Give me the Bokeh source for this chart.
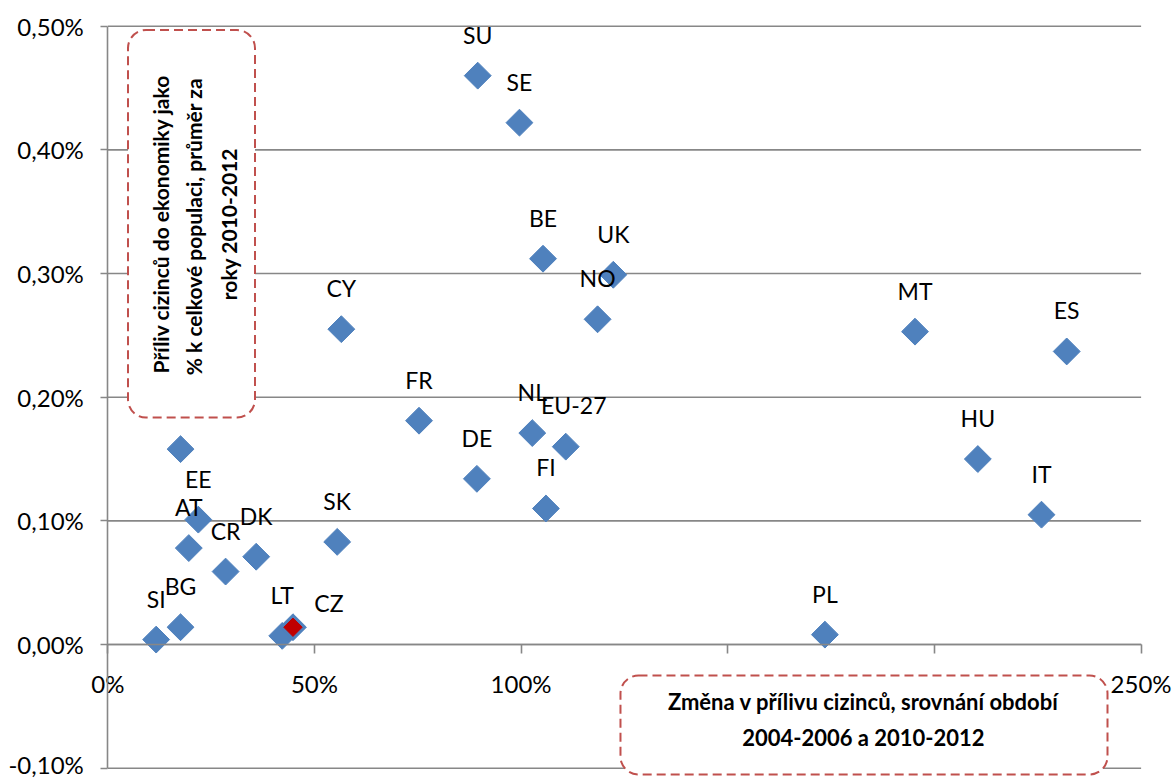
import math
from bokeh.plotting import figure
from bokeh.models import (BoxAnnotation, Label, FixedTicker, CustomJSTickFormatter,
                          ColumnDataSource, Range1d)
from bokeh.core.properties import value
from bokeh.embed import file_html
from bokeh.resources import INLINE

# ---- data (x: change in inflow, %, y: inflow as % of economic population) ----
countries = ["SU", "SE", "BE", "UK", "NO", "CY", "FR", "NL", "EU-27", "DE", "FI",
             "MT", "ES", "HU", "IT", "PL", "EE", "AT", "CR", "DK", "SK", "SI",
             "BG", "LT", ""]
change_pct = [89.5, 99.6, 105.3, 122.3, 118.5, 56.5, 75.3, 102.7, 110.8, 89.3, 106.0,
              195.3, 232.0, 210.5, 225.9, 173.5, 21.9, 19.6, 28.5, 35.9, 55.5, 11.7,
              17.6, 42.2, 17.6]
inflow_pct = [0.460, 0.422, 0.312, 0.299, 0.263, 0.255, 0.181, 0.171, 0.160, 0.134, 0.110,
              0.253, 0.237, 0.150, 0.105, 0.008, 0.101, 0.078, 0.059, 0.071, 0.083, 0.004,
              0.014, 0.007, 0.158]

cz_label = ["CZ"]
cz_change = [44.8]
cz_inflow = [0.014]

x_ticks = [0, 50, 100, 150, 200, 250]
y_ticks = [-0.1, 0.0, 0.1, 0.2, 0.3, 0.4, 0.5]

y_title_lines = ["Příliv cizinců do ekonomiky jako",
                 "% k celkové  populaci, průměr za",
                 "roky 2010-2012"]
x_title_lines = ["Změna v přílivu cizinců, srovnání období",
                 "2004-2006 a 2010-2012"]

# ---- style ----
FONT = "Lato"
BLUE = "#4F81BD"
GRID = "#878787"
RED_BOX = "#C0504D"
label_shift = {"EU-27": (8, -42)}   # special label placements (px)
default_shift = (0, -41)

# frame covers the whole canvas; axes are drawn inside at x=0 / y=0
p = figure(width=1174, height=778, output_backend="svg", toolbar_location=None,
           x_range=Range1d(-25.96, 258.08), y_range=Range1d(-0.10833, 0.52078),
           min_border_left=0, min_border_right=0, min_border_top=0,
           min_border_bottom=0, background_fill_color="white",
           border_fill_color="white")
p.outline_line_color = None
p.xgrid.visible = False
p.ygrid.visible = False

# horizontal gridlines limited to the data area
p.segment(x0=x_ticks[0], x1=x_ticks[-1], y0=y_ticks, y1=y_ticks,
          line_color=GRID, line_width=1.6)

p.yaxis.fixed_location = 0
p.yaxis.bounds = (y_ticks[0], y_ticks[-1])
p.yaxis.ticker = FixedTicker(ticks=y_ticks)
p.yaxis.formatter = CustomJSTickFormatter(code="return tick.toFixed(2).replace('.', ',') + '%';")
p.yaxis.axis_line_color = GRID
p.yaxis.axis_line_width = 1.6
p.yaxis.major_tick_line_color = GRID
p.yaxis.major_tick_line_width = 1.6
p.yaxis.major_tick_out = 7
p.yaxis.major_tick_in = 0
p.yaxis.minor_tick_line_color = None
p.yaxis.major_label_text_font = FONT
p.yaxis.major_label_text_font_size = "24px"
p.yaxis.major_label_text_color = "black"
p.yaxis.major_label_standoff = 17

p.xaxis.fixed_location = 0
p.xaxis.bounds = (x_ticks[0], x_ticks[-1])
p.xaxis.ticker = FixedTicker(ticks=x_ticks)
p.xaxis.formatter = CustomJSTickFormatter(code="return tick.toFixed(0) + '%';")
p.xaxis.axis_line_color = GRID
p.xaxis.axis_line_width = 1.6
p.xaxis.major_tick_line_color = GRID
p.xaxis.major_tick_line_width = 1.6
p.xaxis.major_tick_out = 9
p.xaxis.major_tick_in = 0
p.xaxis.minor_tick_line_color = None
p.xaxis.major_label_text_font = FONT
p.xaxis.major_label_text_font_size = "24px"
p.xaxis.major_label_text_color = "black"
p.xaxis.major_label_standoff = 15

src = ColumnDataSource(dict(
    x=change_pct, y=inflow_pct, name=countries,
    dx=[label_shift.get(c, default_shift)[0] for c in countries],
    dy=[label_shift.get(c, default_shift)[1] for c in countries]))

p.scatter("x", "y", source=src, marker="square", angle=math.pi / 4, size=19,
          fill_color=BLUE, line_color=BLUE, line_width=1)
p.text("x", "y", text="name", source=src, x_offset="dx", y_offset="dy",
       text_align="center", text_baseline="middle", text_font=value(FONT),
       text_font_size="23px", text_color="black")

cz = ColumnDataSource(dict(x=cz_change, y=cz_inflow, name=cz_label))
p.scatter("x", "y", source=cz, marker="square", angle=math.pi / 4, size=19,
          fill_color=BLUE, line_color=BLUE)
p.scatter("x", "y", source=cz, marker="square", angle=math.pi / 4, size=13,
          fill_color="#C00000", line_color="#C00000")
p.text("x", "y", text="name", source=cz, x_offset=36, y_offset=-24,
       text_align="center", text_baseline="middle", text_font=value(FONT),
       text_font_size="23px", text_color="black")

# ---- annotation boxes ----
box_style = dict(fill_color="white", fill_alpha=1.0, line_color=RED_BOX,
                 line_alpha=1.0, line_width=2, line_dash="9 5", border_radius=18)
p.add_layout(BoxAnnotation(left=4.89, right=35.61, top=0.4969, bottom=0.18355, **box_style))
p.add_layout(BoxAnnotation(left=124.04, right=241.87, top=-0.02507, bottom=-0.1051, **box_style))

for xi, line in zip([12.75, 20.74, 29.2], y_title_lines):
    p.add_layout(Label(x=xi, y=0.34, text=line, angle=math.pi / 2,
                       text_align="center", text_baseline="middle",
                       text_font=FONT, text_font_size="21px",
                       text_font_style="bold", text_color="black"))
for yi, line in zip([-0.0461, -0.0752], x_title_lines):
    p.add_layout(Label(x=182.8, y=yi, text=line,
                       text_align="center", text_baseline="middle",
                       text_font=FONT, text_font_size="22px",
                       text_font_style="bold", text_color="black"))

open("out.html", "w").write(file_html(p, INLINE))
